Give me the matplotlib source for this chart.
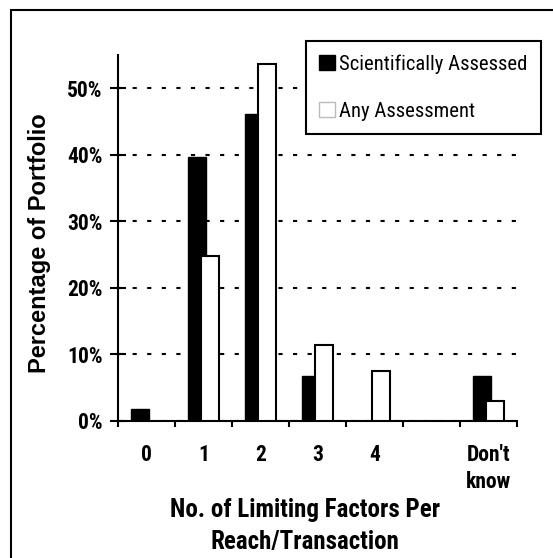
"""bar chart: limiting factors per reach/transaction"""
import numpy as np
import matplotlib
matplotlib.use("Agg")
import matplotlib.pyplot as plt
from matplotlib import font_manager
from matplotlib.patches import Patch, Rectangle

categories = ["0", "1", "2", "3", "4", "", "Don't\nknow"]
sci_assessed = [1.7, 39.6, 46.1, 6.7, np.nan, np.nan, 6.7]
any_assessment = [np.nan, 24.8, 53.6, 11.3, 7.5, np.nan, 2.9]
series_names = ["Scientifically Assessed", "Any Assessment"]
y_ticks = [0, 10, 20, 30, 40, 50]

# the original uses a narrow Arial-like face; take a condensed one if present
available = {f.name for f in font_manager.fontManager.ttflist}
condensed = [n for n in ["Liberation Sans Narrow", "Arial Narrow",
                         "Roboto Condensed", "Open Sans Condensed",
                         "DejaVu Sans Condensed"] if n in available]
if condensed:
    family = [condensed[0], "DejaVu Sans"]
    k = 1.0
else:
    family = ["Liberation Sans", "DejaVu Sans"]
    k = 0.87
plt.rcParams["font.family"] = family

fig = plt.figure(figsize=(5.53, 5.58), dpi=100)
ax = fig.add_axes([0.2134, 0.2464, 0.7215, 0.655])

x = np.arange(len(categories))
width = 0.32
ax.bar(x - 0.113, sci_assessed, width, color="black", edgecolor="black",
       linewidth=1.0, zorder=2)
ax.bar(x + 0.118, any_assessment, width, color="white", edgecolor="black",
       linewidth=1.5, zorder=3)

ax.set_xlim(-0.5, len(categories) - 0.5)
ax.set_ylim(0, 55)

# dotted grid lines behind the bars
ax.set_yticks(y_ticks)
ax.set_yticklabels([f"{t}%" for t in y_ticks], fontsize=15.5 * k,
                   fontweight="bold")
ax.yaxis.grid(True, color="black", linewidth=1.5, linestyle=(0, (2, 5)))
ax.set_axisbelow(True)

ax.set_xticks(x)
ax.set_xticklabels(categories, fontsize=15.5 * k, fontweight="bold",
                   linespacing=1.3, va="top")
ax.set_xticks(np.arange(len(categories) + 1) - 0.5, minor=True)
ax.tick_params(axis="x", which="major", length=0, pad=17)
ax.tick_params(axis="x", which="minor", direction="out", length=4, width=1.5)
ax.tick_params(axis="y", direction="inout", length=12, width=1.5, pad=5)

for side in ["top", "right"]:
    ax.spines[side].set_visible(False)
for side in ["left", "bottom"]:
    ax.spines[side].set_linewidth(1.5)

ax.set_xlabel("No. of Limiting Factors Per\nReach/Transaction", fontsize=18 * k,
              fontweight="bold", linespacing=1.4)
ax.xaxis.set_label_coords(0.468, -0.212)
ax.set_ylabel("Percentage of Portfolio", fontsize=17, fontweight="bold",
              family=["Liberation Sans", "DejaVu Sans"])
ax.yaxis.label.set_va("center")
ax.yaxis.set_label_coords(-0.198, 0.484)

handles = [Patch(facecolor="black", edgecolor="black"),
           Patch(facecolor="white", edgecolor="#bbbbbb")]
leg = fig.legend(handles, series_names, loc="upper left",
                 bbox_to_anchor=(0.553, 0.9265), fontsize=15.3 * k * 0.97,
                 frameon=True, fancybox=False, framealpha=1,
                 handlelength=0.75, handleheight=0.75, handletextpad=0.2,
                 labelspacing=1.35, borderpad=0.65, borderaxespad=0)
leg.get_frame().set_edgecolor("black")
leg.get_frame().set_linewidth(1.5)

# outer frame around the chart, cut off at right and bottom
fig.add_artist(Rectangle((11 / 553, -0.1), 1.2, 1.1 - 10 / 558, fill=False,
                         linewidth=1.5, edgecolor="black",
                         transform=fig.transFigure))

fig.savefig("out.png", dpi=100)
